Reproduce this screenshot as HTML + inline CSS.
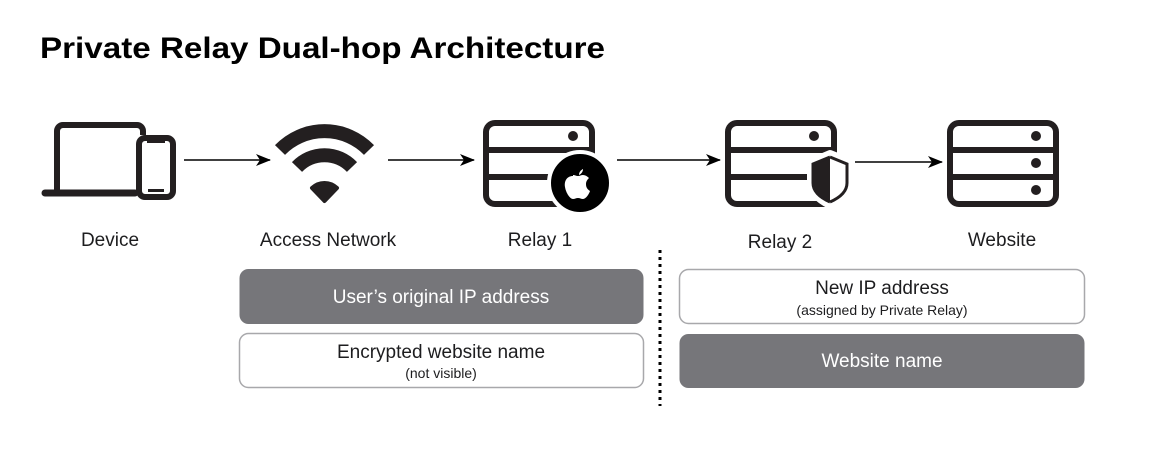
<!DOCTYPE html>
<html><head><meta charset="utf-8"><style>
html,body{margin:0;padding:0;background:#fff;width:1168px;height:456px;overflow:hidden}
svg{display:block;font-family:"Liberation Sans",sans-serif}
</style></head><body>
<svg width="1168" height="456" viewBox="0 0 1168 456" xmlns="http://www.w3.org/2000/svg">
<defs>
<marker id="ah" markerWidth="16" markerHeight="12" refX="14" refY="6" orient="auto" markerUnits="userSpaceOnUse">
<path d="M0,0 L15,6 L0,12 L4,6 Z" fill="#000"/>
</marker>
</defs>
<text x="40" y="58" font-size="30" font-weight="bold" fill="#000" textLength="565" lengthAdjust="spacingAndGlyphs">Private Relay Dual-hop Architecture</text>

<!-- Device -->
<g fill="none" stroke="#231f20" stroke-width="6">
<path d="M143,135 V131 a6,6 0 0 0 -6,-6 H63 a6,6 0 0 0 -6,6 V192"/>
<line x1="45" y1="193" x2="135" y2="193" stroke-linecap="round" stroke-width="7"/>
<rect x="139" y="138" width="34" height="59" rx="6"/>
</g>
<rect x="147" y="138" width="18" height="5" fill="#231f20"/>
<rect x="148" y="189" width="16" height="3" fill="#231f20"/>

<!-- arrows -->
<g stroke="#000" stroke-width="1.6">
<line x1="184" y1="160" x2="270" y2="160" marker-end="url(#ah)"/>
<line x1="388" y1="160" x2="474" y2="160" marker-end="url(#ah)"/>
<line x1="617" y1="160" x2="720" y2="160" marker-end="url(#ah)"/>
<line x1="855" y1="162" x2="942" y2="162" marker-end="url(#ah)"/>
</g>

<!-- Wifi -->
<g fill="none" stroke="#231f20" stroke-width="14">
<path d="M280,150 A62,62 0 0 1 369,150"/>
<path d="M297,167 A38,38 0 0 1 352,167"/>
</g>
<path d="M312,188 A18,18 0 0 1 337,188 L324.5,201 Z" fill="#231f20" stroke="#231f20" stroke-width="4" stroke-linejoin="round"/>

<!-- Relay 1 -->
<g fill="none" stroke="#231f20" stroke-width="6">
<rect x="486" y="123" width="106" height="81" rx="9"/>
<line x1="486" y1="150" x2="592" y2="150"/>
<line x1="486" y1="177" x2="560" y2="177"/>
</g>
<circle cx="573" cy="136" r="5" fill="#231f20"/>
<circle cx="580" cy="183" r="31" fill="#000" stroke="#fff" stroke-width="4"/>
<path d="M573,176 c-6,0 -9,5 -8,11 c1,6 5,12 8,12 c2,0 3,-1 5,-1 c2,0 3,1 5,1 c3,0 6,-5 7,-8 c-3,-2 -4,-4 -4,-7 c0,-3 2,-5 3,-6 c-2,-2 -4,-3 -6,-3 c-2,0 -3,1 -5,1 c-2,0 -3,-1 -5,-1 Z M579,175 c0,-3 2,-5 4,-6 c0,3 -2,5 -4,6 Z" fill="#fff"/>

<!-- Relay 2 -->
<g fill="none" stroke="#231f20" stroke-width="6">
<rect x="728" y="123" width="106" height="81" rx="9"/>
<line x1="728" y1="150" x2="834" y2="150"/>
<line x1="728" y1="177" x2="808" y2="177"/>
</g>
<circle cx="814" cy="136" r="5" fill="#231f20"/>
<path d="M830,154 L811,162 V183 C811,193 820,200 830,205 C840,200 850,193 850,183 V162 Z" fill="#fff" stroke="#fff" stroke-width="8" stroke-linejoin="round"/>
<path d="M830,157 L813,164 V183 C813,192 821,198 830,202 Z" fill="#231f20"/>
<path d="M830,157 L847,164 V183 C847,192 839,198 830,202" fill="none" stroke="#231f20" stroke-width="3"/>
<path d="M830,157 L813,164 V183 C813,192 821,198 830,202" fill="none" stroke="#231f20" stroke-width="3"/>

<!-- Website -->
<g fill="none" stroke="#231f20" stroke-width="6">
<rect x="950" y="123" width="106" height="81" rx="9"/>
<line x1="950" y1="150" x2="1056" y2="150"/>
<line x1="950" y1="177" x2="1056" y2="177"/>
</g>
<circle cx="1036" cy="136" r="5" fill="#231f20"/>
<circle cx="1036" cy="163" r="5" fill="#231f20"/>
<circle cx="1036" cy="190" r="5" fill="#231f20"/>

<!-- labels -->
<g font-size="19" fill="#1d1d1f" text-anchor="middle">
<text x="110" y="246">Device</text>
<text x="328" y="246">Access Network</text>
<text x="540" y="246">Relay 1</text>
<text x="780" y="248">Relay 2</text>
<text x="1002" y="246">Website</text>
</g>

<!-- dotted -->
<line x1="660" y1="250" x2="660" y2="406" stroke="#000" stroke-width="3" stroke-dasharray="3,4"/>

<!-- boxes -->
<rect x="239.5" y="269" width="404" height="55" rx="9" fill="#76767a"/>
<text x="441" y="303" font-size="19" fill="#fff" text-anchor="middle">User’s original IP address</text>
<rect x="239.5" y="333.5" width="404" height="54" rx="9" fill="#fff" stroke="#a8a8ab" stroke-width="1.5"/>
<text x="441" y="358" font-size="19" fill="#1d1d1f" text-anchor="middle">Encrypted website name</text>
<text x="441" y="378" font-size="14" fill="#1d1d1f" text-anchor="middle">(not visible)</text>

<rect x="679.5" y="269.5" width="405" height="54" rx="9" fill="#fff" stroke="#a8a8ab" stroke-width="1.5"/>
<text x="882" y="294" font-size="19" fill="#1d1d1f" text-anchor="middle">New IP address</text>
<text x="882" y="315" font-size="14" fill="#1d1d1f" text-anchor="middle">(assigned by Private Relay)</text>
<rect x="679.5" y="334" width="405" height="54" rx="9" fill="#76767a"/>
<text x="882" y="367" font-size="19" fill="#fff" text-anchor="middle">Website name</text>
</svg>
</body></html>
